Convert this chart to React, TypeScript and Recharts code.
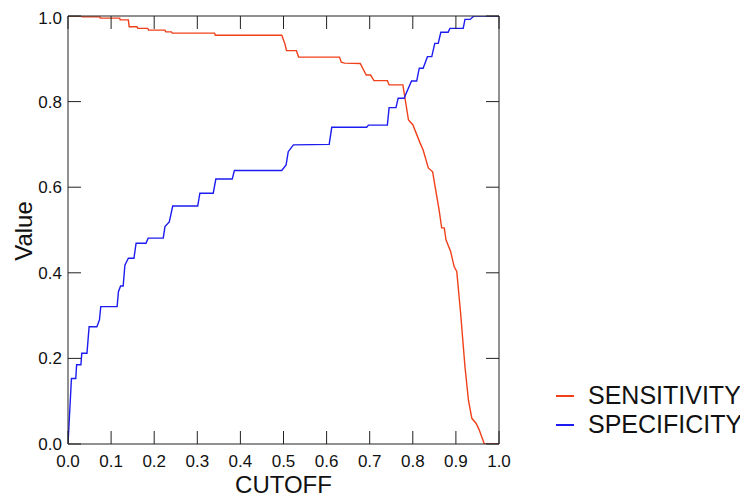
import { LineChart, Line, XAxis, YAxis, Label } from 'recharts';

const xTicks = [0, 0.1, 0.2, 0.3, 0.4, 0.5, 0.6, 0.7, 0.8, 0.9, 1.0];
const yTicks = [0, 0.2, 0.4, 0.6, 0.8, 1.0];

// sensitivity curve (cutoff, value)
const sensitivity = [
  { x: 0, y: 1.0 }, { x: 0.032, y: 1.0 }, { x: 0.033, y: 0.998 }, { x: 0.074, y: 0.998 },
  { x: 0.075, y: 0.995 }, { x: 0.12, y: 0.995 }, { x: 0.121, y: 0.991 }, { x: 0.14, y: 0.991 },
  { x: 0.142, y: 0.975 }, { x: 0.16, y: 0.975 }, { x: 0.162, y: 0.971 }, { x: 0.185, y: 0.971 },
  { x: 0.187, y: 0.967 }, { x: 0.225, y: 0.967 }, { x: 0.227, y: 0.963 }, { x: 0.24, y: 0.963 },
  { x: 0.242, y: 0.96 }, { x: 0.34, y: 0.96 }, { x: 0.342, y: 0.955 }, { x: 0.496, y: 0.955 },
  { x: 0.503, y: 0.936 }, { x: 0.507, y: 0.919 }, { x: 0.53, y: 0.919 }, { x: 0.535, y: 0.904 },
  { x: 0.63, y: 0.904 }, { x: 0.634, y: 0.892 }, { x: 0.642, y: 0.89 }, { x: 0.678, y: 0.889 },
  { x: 0.692, y: 0.862 }, { x: 0.702, y: 0.862 }, { x: 0.71, y: 0.849 }, { x: 0.741, y: 0.849 },
  { x: 0.745, y: 0.839 }, { x: 0.777, y: 0.839 }, { x: 0.79, y: 0.757 }, { x: 0.8, y: 0.746 },
  { x: 0.817, y: 0.703 }, { x: 0.824, y: 0.687 }, { x: 0.836, y: 0.645 }, { x: 0.846, y: 0.636 },
  { x: 0.861, y: 0.547 }, { x: 0.867, y: 0.505 }, { x: 0.873, y: 0.505 }, { x: 0.877, y: 0.477 },
  { x: 0.888, y: 0.449 }, { x: 0.896, y: 0.414 }, { x: 0.902, y: 0.403 }, { x: 0.911, y: 0.305 },
  { x: 0.921, y: 0.181 }, { x: 0.929, y: 0.103 }, { x: 0.937, y: 0.06 }, { x: 0.947, y: 0.048 },
  { x: 0.954, y: 0.033 }, { x: 0.966, y: 0 }, { x: 1.0, y: 0 },
];

// specificity curve
const specificity = [
  { x: 0, y: 0 }, { x: 0.008, y: 0.153 }, { x: 0.018, y: 0.153 }, { x: 0.02, y: 0.185 },
  { x: 0.03, y: 0.185 }, { x: 0.032, y: 0.212 }, { x: 0.044, y: 0.212 }, { x: 0.049, y: 0.274 },
  { x: 0.067, y: 0.274 }, { x: 0.073, y: 0.29 }, { x: 0.076, y: 0.321 }, { x: 0.114, y: 0.321 },
  { x: 0.117, y: 0.356 }, { x: 0.122, y: 0.369 }, { x: 0.128, y: 0.369 }, { x: 0.132, y: 0.418 },
  { x: 0.14, y: 0.434 }, { x: 0.153, y: 0.434 }, { x: 0.158, y: 0.469 }, { x: 0.181, y: 0.469 },
  { x: 0.186, y: 0.481 }, { x: 0.221, y: 0.481 }, { x: 0.225, y: 0.508 }, { x: 0.235, y: 0.519 },
  { x: 0.243, y: 0.556 }, { x: 0.301, y: 0.556 }, { x: 0.306, y: 0.586 }, { x: 0.337, y: 0.586 },
  { x: 0.343, y: 0.619 }, { x: 0.381, y: 0.619 }, { x: 0.386, y: 0.639 }, { x: 0.496, y: 0.639 },
  { x: 0.506, y: 0.652 }, { x: 0.511, y: 0.683 }, { x: 0.523, y: 0.699 }, { x: 0.606, y: 0.7 },
  { x: 0.612, y: 0.74 }, { x: 0.693, y: 0.74 }, { x: 0.697, y: 0.745 }, { x: 0.741, y: 0.745 },
  { x: 0.745, y: 0.786 }, { x: 0.761, y: 0.786 }, { x: 0.766, y: 0.808 }, { x: 0.78, y: 0.808 },
  { x: 0.782, y: 0.813 }, { x: 0.797, y: 0.848 }, { x: 0.809, y: 0.848 }, { x: 0.815, y: 0.878 },
  { x: 0.824, y: 0.878 }, { x: 0.834, y: 0.905 }, { x: 0.844, y: 0.905 }, { x: 0.851, y: 0.936 },
  { x: 0.859, y: 0.936 }, { x: 0.865, y: 0.962 }, { x: 0.882, y: 0.962 }, { x: 0.886, y: 0.971 },
  { x: 0.917, y: 0.971 }, { x: 0.921, y: 0.992 }, { x: 0.933, y: 0.992 }, { x: 0.942, y: 1.0 },
  { x: 1.0, y: 1.0 },
];

const series = [
  { name: 'SENSITIVITY', color: '#f0401a', data: sensitivity },
  { name: 'SPECIFICITY', color: '#1c1cf0', data: specificity },
];

const FONT = '"Liberation Sans", Arial, sans-serif';
const AXIS = '#222';

const App = () => {
  return (
    <div style={{ position: 'relative', width: 740, height: 490, fontFamily: FONT }}>
      <LineChart width={740} height={490} margin={{ top: 7, right: 248, left: 0, bottom: 0 }}>
        <XAxis
          xAxisId="bottom"
          type="number"
          dataKey="x"
          domain={[0, 1]}
          ticks={xTicks}
          tickFormatter={(v: number) => v.toFixed(1)}
          height={54}
          tickSize={-13}
          tickMargin={24}
          stroke={AXIS}
          tick={{ fill: '#111', fontSize: 17, fontFamily: FONT }}
          allowDataOverflow
        >
          <Label
            content={({ viewBox }: any) => (
              <text
                x={viewBox.x + viewBox.width / 2}
                y={viewBox.y + 49}
                textAnchor="middle"
                fontSize={24}
                fontFamily={FONT}
                fill="#111"
              >
                CUTOFF
              </text>
            )}
          />
        </XAxis>
        {/* top and right axes only draw the frame and the inward ticks */}
        <XAxis
          xAxisId="top"
          orientation="top"
          type="number"
          dataKey="x"
          domain={[0, 1]}
          ticks={xTicks}
          tickFormatter={() => ''}
          height={1}
          tickSize={-13}
          stroke={AXIS}
          allowDataOverflow
        />
        <YAxis
          yAxisId="left"
          type="number"
          domain={[0, 1]}
          ticks={yTicks}
          tickFormatter={(v: number) => v.toFixed(1)}
          width={60}
          tickSize={-13}
          tickMargin={19}
          stroke={AXIS}
          tick={{ fill: '#111', fontSize: 17, fontFamily: FONT }}
          allowDataOverflow
        >
          <Label
            content={({ viewBox }: any) => {
              const cx = viewBox.x + 15;
              const cy = viewBox.y + viewBox.height / 2 + 1;
              return (
                <text
                  x={cx}
                  y={cy}
                  transform={`rotate(-90 ${cx} ${cy})`}
                  textAnchor="middle"
                  dominantBaseline="central"
                  fontSize={24}
                  fontFamily={FONT}
                  fill="#111"
                >
                  Value
                </text>
              );
            }}
          />
        </YAxis>
        <YAxis
          yAxisId="right"
          orientation="right"
          type="number"
          domain={[0, 1]}
          ticks={yTicks}
          tickFormatter={() => ''}
          width={1}
          tickSize={-13}
          stroke={AXIS}
          allowDataOverflow
        />
        {series.map(s => (
          <Line
            key={s.name}
            xAxisId="bottom"
            yAxisId="left"
            data={s.data}
            dataKey="y"
            name={s.name}
            type="linear"
            stroke={s.color}
            strokeWidth={1.4}
            dot={false}
            isAnimationActive={false}
          />
        ))}
      </LineChart>
      <div style={{ position: 'absolute', left: 548, top: 373, fontSize: 25, lineHeight: '29px', color: '#111' }}>
        {series.map(s => (
          <div key={s.name} style={{ display: 'flex', alignItems: 'center' }}>
            <span style={{ display: 'inline-block', width: 18, height: 2, background: s.color, marginRight: 14 }} />
            <span>{s.name}</span>
          </div>
        ))}
      </div>
    </div>
  );
};

export default App;
